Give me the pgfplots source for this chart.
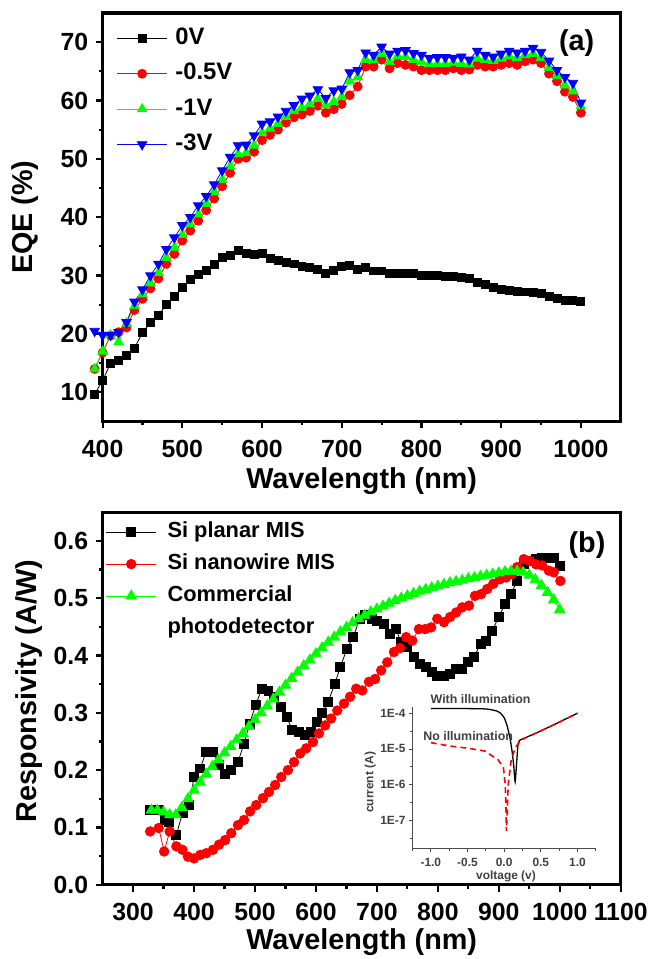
\documentclass[border=0pt]{standalone}
\usepackage{fontspec}
\setmainfont{Liberation Sans}
\usepackage{pgfplots}
\pgfplotsset{compat=1.18}
\definecolor{pr}{RGB}{255,0,0}
\definecolor{pg}{RGB}{0,255,0}
\definecolor{pb}{RGB}{0,0,255}
\pgfplotsset{
  panel/.style={
    scale only axis,
    axis line style={line width=3.2bp},
    every tick/.style={black, line width=2.2bp},
    major tick length=7bp,
    minor tick length=4bp,
    tick align=outside,
    tick pos=left,
    /pgf/number format/assume math mode=true,
    /pgf/number format/1000 sep={},
    tick label style={font=\fontsize{25}{25}\selectfont\bfseries},
    xticklabel style={yshift=-8bp},
    yticklabel style={xshift=-4bp},
    label style={font=\fontsize{29}{29}\selectfont\bfseries},
    legend cell align=left,
    legend image code/.code={
      \draw[mark repeat=2,mark phase=2] plot coordinates {(0bp,0bp) (25bp,0bp) (50bp,0bp)};
    },
  },
}
\begin{document}
\begin{tikzpicture}
\path (0bp,0bp) rectangle (653bp,-959bp);
% ---------------- panel (a)
\begin{axis}[panel,
  at={(103bp,-423bp)}, anchor=south west, width=520bp, height=410bp,
  xmin=400, xmax=1050, ymin=5, ymax=75,
  xtick={400,500,...,1000}, minor x tick num=1,
  ytick={10,20,...,70}, minor y tick num=1,
  clip=false,
  xlabel={Wavelength (nm)},
  ylabel={EQE (\%)},
  xlabel style={at={(axis description cs:0.5,-0.163)}, anchor=base},
  ylabel style={at={(axis description cs:-0.15,0.5)}, anchor=center},
  legend style={draw=none, fill=none, at={(axis description cs:0.027,0.97)}, anchor=north west,
    font=\fontsize{24}{24}\selectfont\bfseries, row sep=9.5bp, inner sep=0pt,
    nodes={inner sep=2bp, text height=17bp, text depth=5bp},
    /tikz/every odd column/.append style={column sep=6bp}},
]
\addplot[black, line width=0.8bp, mark=square*, mark size=4bp] coordinates {
(390,9.7)(400,12.0)(410,15.0)(420,15.5)(430,16.4)(440,17.6)(450,20.2)(460,22)(470,23.2)(480,25)
(490,26.4)(500,28)(510,29.3)(520,30.2)(530,30.9)(540,31.9)(550,33.1)(560,33.5)(570,34.3)(580,33.8)
(590,33.6)(600,33.8)(610,32.9)(620,32.6)(630,32.3)(640,32)(650,31.5)(660,31.4)(670,31.1)(680,30.3)
(690,30.9)(700,31.5)(710,31.8)(720,31.1)(730,31.4)(740,30.8)(750,30.8)(760,30.3)(770,30.3)(780,30.3)
(790,30.3)(800,30)(810,30)(820,30)(830,29.9)(840,29.8)(850,29.7)(860,29.5)(870,28.8)(880,28.5)
(890,27.9)(900,27.7)(910,27.5)(920,27.3)(930,27.2)(940,27.1)(950,26.9)(960,26.4)(970,26.1)(980,25.8)
(990,25.8)(1000,25.6)};
\addlegendentry{0V}
\addplot[pr, line width=0.8bp, mark=*, mark size=4.5bp] coordinates {
(390,14)(400,16.8)(410,19.7)(420,20.3)(430,21.1)(440,24.1)(450,26)(460,27.8)(470,29.5)(480,32)
(490,33.7)(500,36)(510,37.7)(520,39.4)(530,41.2)(540,43.2)(550,45.3)(560,47.6)(570,50)(580,50.2)
(590,51.2)(600,53.2)(610,54.1)(620,55)(630,56.2)(640,57.1)(650,57.6)(660,58.2)(670,59.1)(680,57.9)
(690,58.5)(700,59.4)(710,60.9)(720,62.4)(730,65.8)(740,65.8)(750,67)(760,65.5)(770,66.4)(780,66.1)
(790,65.8)(800,65.2)(810,65.2)(820,65.2)(830,65.2)(840,65.5)(850,65.2)(860,65.3)(870,66.1)(880,65.8)
(890,65.8)(900,66.1)(910,66.4)(920,66.1)(930,66.7)(940,67)(950,66.4)(960,64.6)(970,63.3)(980,61.5)
(990,60.6)(1000,57.9)};
\addlegendentry{-0.5V}
\addplot[pg, line width=0.8bp, mark=triangle*, mark size=5.5bp] coordinates {
(390,14)(400,17)(410,19.8)(420,18.6)(430,21.8)(440,24.8)(450,26.8)(460,28.7)(470,30.5)(480,33)
(490,34.8)(500,37)(510,38.8)(520,40.5)(530,42.3)(540,44.3)(550,46.4)(560,48.7)(570,50.8)(580,51)
(590,52.3)(600,54.5)(610,55.2)(620,56)(630,57.2)(640,58.2)(650,58.8)(660,59.4)(670,60.3)(680,59.2)
(690,59.8)(700,60.6)(710,63.3)(720,64)(730,67)(740,66.9)(750,68)(760,66.6)(770,67.6)(780,67.5)
(790,67)(800,66.6)(810,66.3)(820,66.3)(830,66.3)(840,66.5)(850,66.3)(860,66.2)(870,67.2)(880,67)
(890,66.8)(900,67.2)(910,67.6)(920,67.3)(930,67.8)(940,68)(950,67.3)(960,65.6)(970,64.2)(980,62.6)
(990,61.6)(1000,59)};
\addlegendentry{-1V}
\addplot[pb, line width=0.8bp, mark=triangle*, mark size=5.5bp, mark options={rotate=180}] coordinates {
(390,20.5)(400,19.8)(410,19.8)(420,20.3)(430,22)(440,25.5)(450,27.6)(460,30)(470,32)(480,34.5)
(490,36.5)(500,38.6)(510,40)(520,42)(530,43.6)(540,45.6)(550,48)(560,50.3)(570,52.3)(580,52.4)
(590,54)(600,56)(610,56.4)(620,57.2)(630,58.2)(640,59.2)(650,60.3)(660,60.8)(670,61.9)(680,60.4)
(690,61.7)(700,62)(710,64.8)(720,65.2)(730,68.2)(740,67.8)(750,69.2)(760,68)(770,68.5)(780,68.6)
(790,68.1)(800,67.8)(810,67.3)(820,67.4)(830,67.4)(840,67.3)(850,67.5)(860,67)(870,68.5)(880,67.8)
(890,67.5)(900,68)(910,68.5)(920,68.2)(930,68.5)(940,69)(950,68.3)(960,66.8)(970,65.2)(980,64)
(990,63)(1000,59.6)};
\addlegendentry{-3V}
\node[font=\fontsize{29}{29}\selectfont\bfseries] at (axis description cs:0.915,0.927) {(a)};
\end{axis}
% ---------------- panel (b)
\begin{axis}[panel,
  at={(103bp,-888bp)}, anchor=south west, width=520bp, height=374bp,
  xmin=250, xmax=1100, ymin=0, ymax=0.65,
  xtick={300,400,...,1100}, minor x tick num=1,
  ytick={0,0.1,...,0.6}, minor y tick num=1,
  yticklabel style={/pgf/number format/.cd, fixed, fixed zerofill, precision=1},
  xlabel={Wavelength (nm)},
  ylabel={Responsivity (A/W)},
  xlabel style={at={(axis description cs:0.5,-0.174)}, anchor=base},
  ylabel style={at={(axis description cs:-0.142,0.52)}, anchor=center},
  legend style={draw=none, fill=none, at={(axis description cs:0.006,0.98)}, anchor=north west,
    font=\fontsize{22}{22}\selectfont\bfseries, row sep=7bp, inner sep=0pt,
    nodes={inner sep=2bp, text height=16bp, text depth=5bp},
    /tikz/every odd column/.append style={column sep=9bp}},
]
\addplot[black, line width=0.8bp, mark=square*, mark size=4.5bp] coordinates {
(328,0.13)(342,0.13)(352,0.113)(359,0.11)(371,0.087)(381,0.125)(392,0.139)(400,0.188)(410,0.203)(420,0.232)
(431,0.232)(441,0.209)(451,0.194)(461,0.2)(472,0.214)(482,0.246)(491,0.281)(501,0.313)(511,0.342)(522,0.339)
(531,0.328)(542,0.31)(552,0.293)(561,0.27)(572,0.267)(582,0.261)(591,0.267)(601,0.284)(610,0.299)(620,0.319)
(631,0.351)(640,0.38)(651,0.412)(661,0.432)(672,0.464)(681,0.47)(691,0.464)(700,0.461)(711,0.455)(721,0.438)
(731,0.446)(740,0.423)(749,0.415)(760,0.397)(770,0.386)(780,0.38)(790,0.371)(799,0.364)(810,0.364)(820,0.368)
(830,0.377)(839,0.377)(849,0.388)(859,0.397)(870,0.42)(879,0.426)(889,0.443)(900,0.467)(910,0.49)(920,0.507)
(930,0.53)(941,0.559)(951,0.565)(961,0.568)(971,0.571)(980,0.571)(990,0.571)(1001,0.557)};
\addlegendentry{Si planar MIS}
\addplot[pr, line width=0.8bp, mark=*, mark size=4.8bp] coordinates {
(328,0.093)(342,0.099)(351,0.058)(360,0.093)(371,0.067)(381,0.061)(390,0.049)(400,0.046)(410,0.052)(420,0.055)
(431,0.061)(441,0.07)(451,0.078)(461,0.09)(472,0.104)(482,0.113)(492,0.128)(502,0.139)(513,0.151)(523,0.162)
(533,0.174)(543,0.188)(554,0.2)(564,0.214)(574,0.229)(584,0.238)(595,0.249)(605,0.264)(615,0.278)(625,0.29)
(635,0.304)(646,0.316)(656,0.328)(666,0.342)(676,0.339)(687,0.354)(697,0.359)(707,0.374)(717,0.388)(728,0.406)
(738,0.413)(748,0.432)(758,0.426)(769,0.446)(779,0.446)(789,0.449)(799,0.464)(810,0.458)(820,0.467)(830,0.475)
(840,0.484)(851,0.487)(861,0.504)(871,0.507)(881,0.516)(891,0.525)(902,0.533)(912,0.536)(922,0.542)(930,0.554)
(941,0.568)(951,0.565)(961,0.559)(971,0.557)(982,0.548)(990,0.545)(1001,0.53)};
\addlegendentry{Si nanowire MIS}
\addplot[pg, line width=0.8bp, mark=triangle*, mark size=6bp] coordinates {
(330,0.13)(340,0.13)(350,0.127)(360,0.122)(370,0.122)(380,0.135)(390,0.15)(400,0.165)(410,0.179)(420,0.193)
(430,0.206)(440,0.218)(450,0.23)(460,0.241)(470,0.253)(480,0.264)(490,0.276)(500,0.288)(510,0.3)(520,0.312)
(530,0.324)(540,0.336)(550,0.348)(560,0.36)(570,0.371)(580,0.382)(590,0.392)(600,0.403)(610,0.413)(620,0.423)
(630,0.432)(640,0.441)(650,0.449)(660,0.457)(670,0.464)(680,0.47)(690,0.476)(700,0.481)(710,0.486)(720,0.491)
(730,0.496)(740,0.5)(750,0.504)(760,0.508)(770,0.512)(780,0.515)(790,0.518)(800,0.521)(810,0.524)(820,0.527)
(830,0.529)(840,0.531)(850,0.534)(860,0.536)(870,0.538)(880,0.54)(890,0.542)(900,0.544)(910,0.546)(920,0.547)
(930,0.547)(940,0.545)(950,0.54)(960,0.532)(970,0.522)(980,0.51)(990,0.497)(1000,0.48)};
\addlegendentry{Commercial}
\addlegendimage{empty legend}
\addlegendentry{photodetector}
\node[font=\fontsize{29}{29}\selectfont\bfseries] at (axis description cs:0.935,0.912) {(b)};
\end{axis}
% ---------------- inset
\begin{axis}[
  at={(414bp,-852bp)}, anchor=south west, scale only axis, width=184bp, height=142bp,
  ymode=log, xmin=-1.25, xmax=1.25, ymin=1.6e-8, ymax=1.45e-4,
  axis lines*=left, axis line style={line width=1bp, black!70},
  every tick/.style={black!70, line width=0.8bp},
  major tick length=3.5bp, minor tick length=2bp, tick align=outside,
  xtick={-1,-0.5,0,0.5,1}, xticklabels={-1.0,-0.5,0.0,0.5,1.0},
  minor xtick={-1.25,-0.75,-0.25,0.25,0.75,1.25},
  ytick={1e-7,1e-6,1e-5,1e-4}, yticklabels={1E-7,1E-6,1E-5,1E-4},
  minor ytick={3.16e-8,3.16e-7,3.16e-6,3.16e-5},
  tick label style={font=\fontsize{12}{12}\selectfont\bfseries, text=black!75},
  xticklabel style={yshift=-2bp},
  label style={font=\fontsize{12}{12}\selectfont\bfseries, text=black!75},
  xlabel={voltage (v)}, ylabel={current (A)},
  xlabel style={at={(axis description cs:0.51,-0.195)}, anchor=center},
  ylabel style={at={(axis description cs:-0.23,0.47)}, anchor=center},
  clip=false,
]
\addplot[black, line width=1.3bp, smooth, tension=0.3] coordinates {
(-1.0,1.35e-4)(-0.6,1.35e-4)(-0.3,1.33e-4)(-0.2,1.28e-4)(-0.1,1.15e-4)(-0.05,1.0e-4)(0.0,7.5e-5)(0.04,4.5e-5)
(0.08,2e-5)(0.11,8e-6)(0.13,3.5e-6)(0.15,1.2e-6)(0.17,4e-6)(0.19,1.4e-5)(0.22,1.8e-5)(0.3,2.1e-5)(0.5,3.2e-5)
(0.75,5.6e-5)(1.0,1.0e-4)};
\addplot[pr, line width=1.6bp, dash pattern=on 6bp off 4bp] coordinates {
(-1.0,1.5e-5)(-0.73,1.2e-5)(-0.5,1.05e-5)(-0.26,8.7e-6)(-0.08,4.9e-6)(-0.01,3e-6)(0.015,1e-6)(0.025,2.3e-7)
(0.03,5e-8)(0.045,2.3e-7)(0.055,1e-6)(0.095,4.7e-6)(0.15,1.07e-5)(0.23,1.78e-5)(0.5,3.2e-5)(0.75,5.6e-5)(1.0,1.0e-4)};
\node[anchor=west, font=\fontsize{12.5}{12.5}\selectfont\bfseries, text=black!75] at (axis description cs:0.08,1.06) {With illumination};
\node[anchor=west, font=\fontsize{12.5}{12.5}\selectfont\bfseries, text=black!75] at (axis description cs:0.04,0.80) {No illumination};
\end{axis}
\end{tikzpicture}
\end{document}
